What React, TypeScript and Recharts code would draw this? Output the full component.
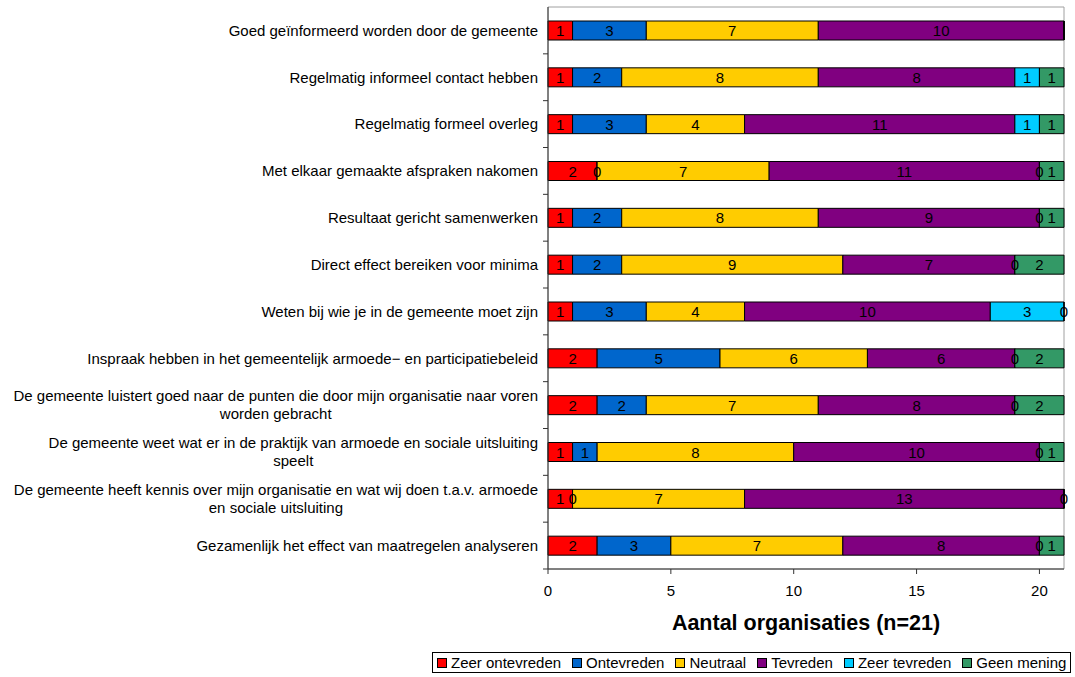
import { BarChart, Bar, XAxis, YAxis, LabelList, Legend, ReferenceArea } from "recharts";

const categories = [
  "Goed geïnformeerd worden door de gemeente",
  "Regelmatig informeel contact hebben",
  "Regelmatig formeel overleg",
  "Met elkaar gemaakte afspraken nakomen",
  "Resultaat gericht samenwerken",
  "Direct effect bereiken voor minima",
  "Weten bij wie je in de gemeente moet zijn",
  "Inspraak hebben in het gemeentelijk armoede− en participatiebeleid",
  "De gemeente luistert goed naar de punten die door mijn organisatie naar voren\nworden gebracht",
  "De gemeente weet wat er in de praktijk van armoede en sociale uitsluiting\nspeelt",
  "De gemeente heeft kennis over mijn organisatie en wat wij doen t.a.v. armoede\nen sociale uitsluiting",
  "Gezamenlijk het effect van maatregelen analyseren",
];

const zeerOntevreden = [1, 1, 1, 2, 1, 1, 1, 2, 2, 1, 1, 2];
const ontevreden = [3, 2, 3, 0, 2, 2, 3, 5, 2, 1, 0, 3];
const neutraal = [7, 8, 4, 7, 8, 9, 4, 6, 7, 8, 7, 7];
const tevreden = [10, 8, 11, 11, 9, 7, 10, 6, 8, 10, 13, 8];
const zeerTevreden = [null, 1, 1, 0, 0, 0, 3, 0, 0, 0, 0, 0];
const geenMening = [null, 1, 1, 1, 1, 2, 0, 2, 2, 1, null, 1];

const seriesNames = ["Zeer ontevreden", "Ontevreden", "Neutraal", "Tevreden", "Zeer tevreden", "Geen mening"];
const seriesKeys = ["zo", "o", "n", "t", "zt", "gm"];
const seriesColors = ["#FF0000", "#0066CC", "#FFCC00", "#800080", "#00CCFF", "#339966"];

const xTicks = [0, 5, 10, 15, 20];

const data = categories.map((name, i) => ({
  name,
  zo: zeerOntevreden[i],
  o: ontevreden[i],
  n: neutraal[i],
  t: tevreden[i],
  zt: zeerTevreden[i],
  gm: geenMening[i],
}));

const FONT = "'Liberation Sans', Arial, sans-serif";
const FS = 15;
const AXIS_X = 548;
const PLOT_TOP = 7;
const PLOT_BOTTOM = 569;
const BAND = (PLOT_BOTTOM - PLOT_TOP) / categories.length;
const LINE_H = 18;

let ctx: CanvasRenderingContext2D | null = null;
function textWidth(s: string) {
  if (!ctx) ctx = document.createElement("canvas").getContext("2d");
  if (!ctx) return s.length * 7.5;
  ctx.font = `${FS}px ${FONT}`;
  return ctx.measureText(s).width;
}

// labels right-aligned against the axis, wrapped lines centred on each other
const CategoryTick = (props: any) => {
  const { y, payload } = props;
  const lines = String(payload.value).split("\n");
  const widest = Math.max(...lines.map(textWidth));
  const cx = AXIS_X - 10 - widest / 2;
  const top = y - ((lines.length - 1) * LINE_H) / 2;
  return (
    <g>
      <line x1={AXIS_X - 5} x2={AXIS_X} y1={y + BAND / 2} y2={y + BAND / 2} stroke="#333" />
      <text textAnchor="middle" fontSize={FS} fill="#000">
        {lines.map((l, i) => (
          <tspan key={i} x={cx} y={top + i * LINE_H} dy="0.35em">
            {l}
          </tspan>
        ))}
      </text>
    </g>
  );
};

const renderValue = (props: any) => {
  const { x, y, width, height, value } = props;
  if (value == null) return null;
  return (
    <text
      x={Number(x) + Number(width) / 2}
      y={Number(y) + Number(height) / 2}
      textAnchor="middle"
      dominantBaseline="central"
      fontSize={FS}
      fill="#000"
    >
      {value}
    </text>
  );
};

const LegendBox = () => (
  <div
    style={{
      boxSizing: "border-box",
      width: 639,
      height: 21,
      border: "1px solid #000",
      display: "flex",
      alignItems: "center",
      paddingLeft: 4,
      fontFamily: FONT,
      fontSize: FS,
      color: "#000",
      background: "#fff",
      whiteSpace: "nowrap",
    }}
  >
    {seriesNames.map((s, i) => (
      <div key={s} style={{ display: "flex", alignItems: "center", marginRight: 11 }}>
        <span
          style={{
            display: "inline-block",
            width: 8,
            height: 8,
            border: "1px solid #000",
            background: seriesColors[i],
            marginRight: 4,
          }}
        />
        <span>{s}</span>
      </div>
    ))}
  </div>
);

export default function App() {
  return (
    <div style={{ position: "absolute", left: 0, top: 0, width: 1075, height: 677, background: "#fff" }}>
      <BarChart
        width={1075}
        height={677}
        data={data}
        layout="vertical"
        barSize={19}
        margin={{ top: PLOT_TOP, right: 11, bottom: 0, left: 0 }}
        style={{ fontFamily: FONT }}
      >
        <ReferenceArea x1={0} x2={21} fill="none" stroke="#a0a0a0" strokeWidth={1} />
        <XAxis
          type="number"
          domain={[0, 21]}
          ticks={xTicks}
          height={108}
          tickSize={5}
          tickMargin={11}
          tick={{ fontSize: FS, fill: "#000" }}
          axisLine={{ stroke: "#333" }}
          tickLine={{ stroke: "#333" }}
          label={{
            value: "Aantal organisaties (n=21)",
            position: "insideTop",
            offset: 46,
            fontSize: 21.5,
            fontWeight: "bold",
            fill: "#000",
          }}
        />
        <YAxis
          type="category"
          dataKey="name"
          width={AXIS_X}
          tick={<CategoryTick />}
          tickLine={false}
          axisLine={{ stroke: "#333" }}
          interval={0}
        />
        {seriesKeys.map((k, i) => (
          <Bar
            key={k}
            dataKey={k}
            name={seriesNames[i]}
            stackId="a"
            fill={seriesColors[i]}
            stroke="#000"
            strokeWidth={1}
            minPointSize={0.01}
            isAnimationActive={false}
          >
            <LabelList dataKey={k} content={renderValue} />
          </Bar>
        ))}
        <Legend
          layout="horizontal"
          verticalAlign="middle"
          align="center"
          wrapperStyle={{ left: 432, top: 652, width: 639, height: 21 }}
          content={() => <LegendBox />}
        />
      </BarChart>
    </div>
  );
}
